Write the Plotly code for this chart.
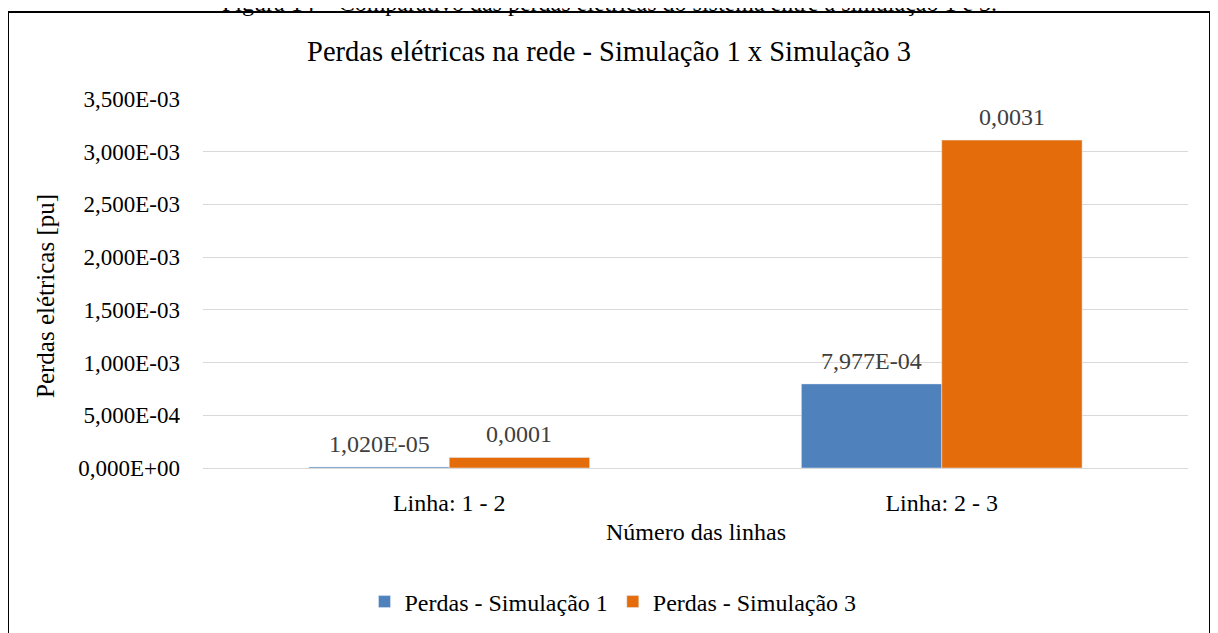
import plotly.graph_objects as go

# data
linhas = ["Linha: 1 - 2", "Linha: 2 - 3"]
perdas_sim1 = [1.02e-05, 7.977e-04]
perdas_sim3 = [1.0e-04, 3.11e-03]
y_ticks = [0, 5e-4, 1e-3, 1.5e-3, 2e-3, 2.5e-3, 3e-3, 3.5e-3]

FONT = "Liberation Serif, Times New Roman, serif"
W, H = 1218, 633
OFF = 8  # page body margin
L, R, T, B = 203 - OFF, 1188 - OFF, 99 - OFF, 468 - OFF  # plot area in figure px
BARGAP = 0.43


def sci(v):
    return "{:.3E}".format(v).replace(".", ",")


def dec(v):
    return "{:.4f}".format(v).replace(".", ",")


def px_x(x):
    # screen px -> paper
    return (x - OFF - L) / (R - L)


def px_y(y):
    return (B - (y - OFF)) / (B - T)


fig = go.Figure()
fig.add_trace(go.Bar(x=linhas, y=perdas_sim1, name="Perdas - Simulação 1",
                     marker_color="#4F81BD"))
fig.add_trace(go.Bar(x=linhas, y=perdas_sim3, name="Perdas - Simulação 3",
                     marker_color="#E46C0A"))

# data labels
half = (1 - BARGAP) / 4
for i, (a, b) in enumerate(zip(perdas_sim1, perdas_sim3)):
    for dx, v, txt in ((-half, a, sci(a)), (half, b, dec(b))):
        fig.add_annotation(x=i + dx, y=v, text=txt, showarrow=False,
                           xanchor="center", yanchor="bottom", yshift=8,
                           font=dict(size=24, color="#404040"))

fig.update_layout(
    width=W, height=H,
    margin=dict(l=L, r=W - R, t=T, b=H - B, autoexpand=False),
    paper_bgcolor="white", plot_bgcolor="white",
    font=dict(family=FONT, size=24, color="#000000"),
    barmode="group", bargap=BARGAP, bargroupgap=0,
    title=dict(text="Perdas elétricas na rede - Simulação 1 x Simulação 3",
               x=(609 - OFF) / W, xref="container", xanchor="center",
               y=1 - (51 - OFF) / H, yref="container", yanchor="middle",
               font=dict(size=28.5, color="#000000")),
    legend=dict(orientation="h", x=px_x(613), xanchor="center",
                y=px_y(602), yanchor="middle",
                font=dict(size=24, color="#000000"),
                itemwidth=30, traceorder="normal"),
    xaxis=dict(showgrid=False, showline=True, linecolor="#d9d9d9", linewidth=1,
               ticks="", tickfont=dict(size=24, color="#000000"),
               ticklabelstandoff=13),
    yaxis=dict(range=[0, 3.5e-3], tickvals=y_ticks,
               ticktext=[sci(v) for v in y_ticks],
               showgrid=True, gridcolor="#d9d9d9", gridwidth=1,
               zeroline=False, showline=False, ticks="",
               tickfont=dict(size=23, color="#000000"),
               ticklabelstandoff=22),
    showlegend=True,
)

# axis titles
fig.add_annotation(text="Perdas elétricas [pu]", x=px_x(45), y=px_y(296),
                   xref="paper", yref="paper", textangle=-90,
                   xanchor="center", yanchor="middle",
                   showarrow=False, font=dict(size=25, color="#000000"))
fig.add_annotation(text="Número das linhas", x=0.5, y=px_y(532),
                   xref="paper", yref="paper", showarrow=False,
                   xanchor="center", yanchor="middle",
                   font=dict(size=24, color="#000000"))

# caption above the chart (cut off at top)
fig.add_annotation(text="Figura 14 – Comparativo das perdas elétricas do sistema entre a simulação 1 e 3.",
                   x=px_x(609), y=px_y(3), xref="paper", yref="paper",
                   xanchor="center", yanchor="middle", showarrow=False,
                   font=dict(size=24, color="#000000"))

# chart border
fig.add_shape(type="rect", xref="paper", yref="paper",
              x0=px_x(8), x1=px_x(1210), y0=px_y(680), y1=px_y(12),
              line=dict(color="#000000", width=2), fillcolor="rgba(0,0,0,0)")

fig.write_html("out.html")
